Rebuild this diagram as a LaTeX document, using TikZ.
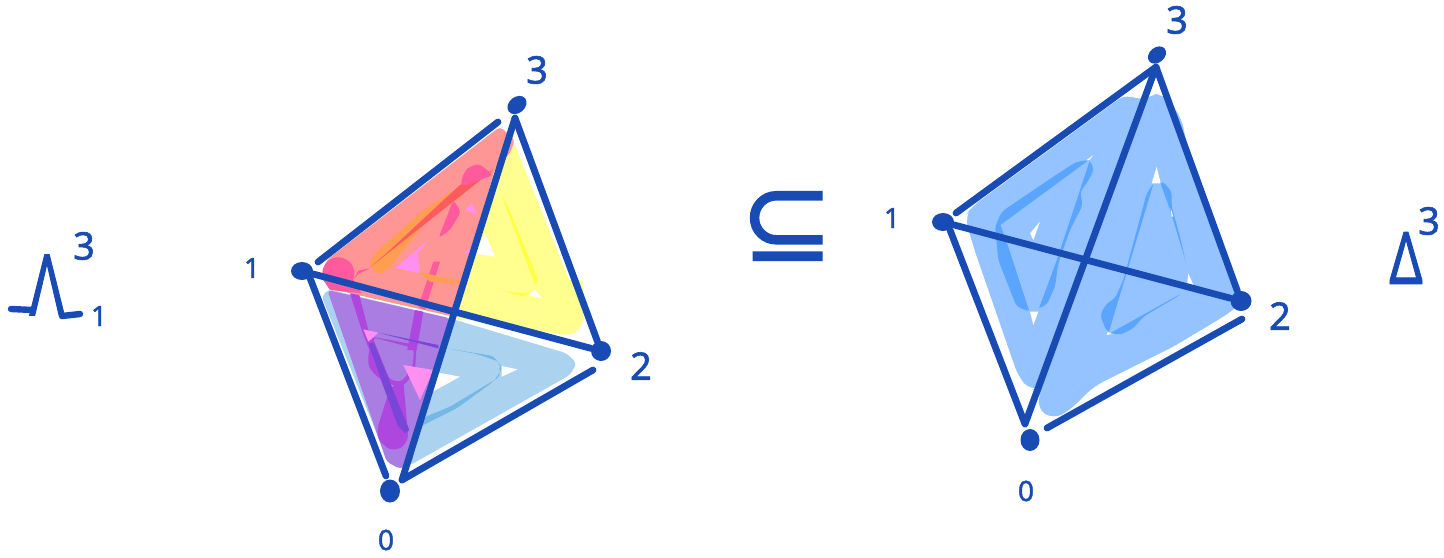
\documentclass[tikz,border=0pt]{standalone}
\usepackage{fontspec}
\usepackage{graphicx}
\usetikzlibrary{shapes.geometric}
\setmainfont{Noto Sans}
\newfontfamily\hand[FakeBold=1.6]{Noto Sans}
\newfontfamily\symfont[FakeBold=1.2]{DejaVu Sans}
\definecolor{ink}{HTML}{184CB4}
\definecolor{cyel}{HTML}{FFFF8F}
\definecolor{cyel2}{HTML}{FFFF45}
\definecolor{cred}{HTML}{FF9696}
\definecolor{cred2}{HTML}{FF5A5E}
\definecolor{cblu}{HTML}{ABD3F0}
\definecolor{cblu2}{HTML}{75B8E6}
\definecolor{cpur}{HTML}{AA7DE2}
\definecolor{cpur2}{HTML}{AE46E0}
\definecolor{cpur3}{HTML}{7A46D8}
\definecolor{cpnk}{HTML}{FF5A9E}
\definecolor{cmag}{HTML}{FF90F0}
\definecolor{corg}{HTML}{FF9E50}
\definecolor{cfil}{HTML}{94C3FF}
\definecolor{cfil2}{HTML}{5AA5FF}
\tikzset{
  edge/.style={draw=ink,line width=3.4pt,line cap=round,line join=round},
  vdot/.style={ellipse,fill=ink,inner sep=0pt,minimum width=#1},
  digit/.style={text=ink,inner sep=0pt,font=\hand\fontsize{19}{19}\selectfont},
  smalldigit/.style={text=ink,inner sep=0pt,font=\hand\fontsize{14}{14}\selectfont},
  bigsym/.style={text=ink,inner sep=0pt},
  zone/.style={shift={#1},x=0.16667pt,y=-0.16667pt},
  soft/.style={rounded corners=2pt}
}
\begin{document}
\begin{tikzpicture}[x=0.5pt,y=-0.5pt]
\useasboundingbox (0,0) rectangle (1444,557);
\fill[white] (0,0) rectangle (1444,557);

% --- left figure: coloured faces (zoom-crop coordinates)
\begin{scope}[zone={(290,280)}]
  \fill[cblu,soft] (95,50) -- (115,28) -- (480,115) -- (830,220) -- (860,250) -- (840,285) -- (370,550) -- (335,565) -- (290,535) -- cycle;
  \fill[white] (635,258) -- (683,268) -- (635,290) -- cycle;
  \fill[cblu2,soft] (470,205) -- (610,228) -- (638,265) -- (610,305) -- (500,385) -- (370,450) -- (360,430) -- (480,380) -- (630,290) -- (628,245) -- (560,222) -- cycle;
  \fill[cyel,soft] (880,120) -- (860,160) -- (820,165) -- (500,105) -- (520,0) -- (880,0) -- cycle;
\end{scope}
\begin{scope}[zone={(290,90)}]
  \fill[cyel] (675,165) -- (885,690) -- (500,690) -- (615,235) -- cycle;
  \fill[cred,soft] (630,110) -- (675,150) -- (660,190) -- (615,235) -- (490,680) -- (115,595) -- (97,550) -- (110,510) -- cycle;
  \fill[cpnk] (145,550) circle [radius=48];
  \fill[cpnk] (100,570) -- (190,570) -- (215,610) -- (120,600) -- cycle;
  \fill[white] (585,430) -- (615,500) -- (555,490) -- cycle;
  \fill[cmag] (520,490) -- (545,470) -- (555,490) -- cycle;
  \fill[white] (735,600) -- (755,625) -- (715,615) -- cycle;
  \fill[cyel2] (635,318) -- (650,340) -- (745,570) -- (735,585) -- cycle;
  \fill[cyel2] (590,590) -- (700,620) -- (720,610) -- (650,605) -- cycle;
  \fill[cmag] (525,360) -- (545,340) -- (563,375) -- cycle;
  \fill[cmag] (415,450) -- (315,535) -- (390,550) -- (383,490) -- cycle;
  \fill[corg,soft] (235,520) -- (260,485) -- (400,360) -- (490,300) -- (510,295) -- (520,320) -- (450,345) -- (300,530) -- (265,555) -- cycle;
  \fill[cred2] (240,532) -- (610,240) -- (510,285) -- (450,340) -- (300,480) -- cycle;
  \fill[cpnk,soft] (513,270) -- (530,235) -- (565,220) -- (610,255) -- (515,290) -- cycle;
  \fill[cpnk,soft] (490,330) -- (513,365) -- (480,420) -- (445,445) -- cycle;
  \fill[cpnk] (430,515) -- (450,515) -- (405,660) -- (385,650) -- cycle;
  \fill[corg] (385,545) -- (420,575) -- (510,582) -- (505,572) -- cycle;
  \fill[corg] (240,525) -- (390,552) -- (320,537) -- cycle;
  \fill[cpnk] (190,570) -- (205,542) -- (240,535) -- (205,552) -- cycle;
\end{scope}
\begin{scope}[zone={(290,280)}]
  \fill[cpur,soft] (112,30) -- (480,115) -- (375,500) -- (365,550) -- (330,567) -- (290,545) -- cycle;
  % ring of the purple overlap
  \fill[cpur2,soft] (235,225) -- (245,170) -- (380,195) -- (375,270) -- (345,315) -- (310,318) -- (260,290) -- (235,260) -- cycle;
  \fill[cpur,soft] (248,172) -- (372,205) -- (368,260) -- (335,305) -- (300,300) -- cycle;
  \fill[cpur2] (375,90) -- (400,95) -- (380,210) -- (352,210) -- cycle;
  \fill[cpur2,soft] (300,325) -- (340,300) -- (355,475) -- (335,505) -- (300,510) -- (265,480) -- (262,445) -- cycle;
  \fill[cpur2] (180,40) -- (208,45) -- (240,170) -- (355,455) -- (330,450) -- (215,150) -- cycle;
  \fill[cpur3] (235,190) -- (252,190) -- (358,450) -- (345,460) -- (322,435) -- cycle;
  \fill[cmag] (220,148) -- (265,158) -- (235,185) -- cycle;
  \fill[cpur3] (265,158) -- (445,195) -- (445,205) -- cycle;
  \fill[cmag] (340,255) -- (430,270) -- (390,360) -- cycle;
  \fill[white] (445,278) -- (510,290) -- (428,335) -- cycle;
\end{scope}

% --- left figure: vertices and edges
\node[vdot=10.5pt,minimum height=8pt,rotate=40] (L3) at (517,105) {};
\node[vdot=11pt,minimum height=9pt] (L1) at (302,271) {};
\node[vdot=10pt,minimum height=10pt] (L2) at (601,351) {};
\node[vdot=10pt,minimum height=11.5pt] (L0) at (390,491) {};
\coordinate (La) at (515,118);
\coordinate (Lb) at (402,480);
\coordinate (Lc) at (318,262);
\coordinate (Ld) at (498,122);
\coordinate (Le) at (386,476);
\coordinate (Lf) at (593,370);
\coordinate (Lg) at (310,278);
\draw[edge] (Lc) -- (Ld);
\draw[edge] (La) -- (L2);
\draw[edge] (La) -- (Lb);
\draw[edge] (L1) -- (L2);
\draw[edge] (Lg) -- (Le);
\draw[edge] (Lb) -- (Lf);

% --- right figure: fill
\begin{scope}[zone={(930,60)}]
  \fill[cfil,rounded corners=5pt] (105,470) -- (125,440) -- (590,100) -- (630,125) -- (660,105) -- (700,100) -- (755,175) -- (775,280) -- (930,735) -- (880,770) -- (730,860) -- (490,980) -- (420,1050) -- (370,1078) -- (320,1045) -- (335,985) -- (300,990) -- (265,950) -- (130,560) -- cycle;
  % inner rings
  \fill[cfil2,soft] (195,500) -- (215,455) -- (370,350) -- (440,305) -- (480,300) -- (492,330) -- (470,370) -- (450,395) -- (458,435) -- (420,510) -- (385,610) -- (375,680) -- (350,735) -- (300,755) -- (260,740) -- (240,690) -- (205,600) -- cycle;
  \fill[cfil] (212,495) -- (480,298) -- (430,450) -- (380,600) -- (310,790) -- (235,560) -- cycle;
  \fill[white] (300,520) -- (330,485) -- (310,540) -- cycle;
  \fill[white] (478,300) -- (490,285) -- (470,300) -- cycle;
  \fill[white] (300,755) -- (325,755) -- (310,795) -- cycle;
  \fill[cfil2,soft] (510,765) -- (530,730) -- (555,715) -- (580,660) -- (650,400) -- (670,370) -- (700,365) -- (725,395) -- (725,440) -- (750,530) -- (775,640) -- (770,670) -- (750,705) -- (640,770) -- (610,805) -- (570,825) -- (530,815) -- cycle;
  \fill[cfil] (535,822) -- (680,340) -- (720,450) -- (790,680) -- cycle;
  \fill[white] (680,320) -- (692,370) -- (665,370) -- cycle;
  \fill[white] (775,640) -- (792,680) -- (770,685) -- cycle;
  \fill[white] (533,815) -- (545,822) -- (530,825) -- cycle;
  \fill[white] (722,445) -- (730,470) -- (725,470) -- cycle;
\end{scope}

% --- right figure: vertices and edges
\node[vdot=10pt,minimum height=7.5pt,rotate=40] (R3) at (1157,55) {};
\node[vdot=11pt,minimum height=9pt] (R1) at (943,222) {};
\node[vdot=10.5pt,minimum height=10pt] (R2) at (1241,301) {};
\node[vdot=9.5pt,minimum height=11pt] (R0) at (1030,440) {};
\coordinate (Ra) at (1156,67);
\coordinate (Rb) at (1025,424);
\coordinate (Rc) at (956,213);
\coordinate (Rd) at (1047,428);
\coordinate (Re) at (1242,319);
\coordinate (Rf) at (950,230);
\draw[edge] (Rc) -- (Ra);
\draw[edge] (Ra) -- (R2);
\draw[edge] (Ra) -- (Rb);
\draw[edge] (R1) -- (R2);
\draw[edge] (Rf) -- (Rb);
\draw[edge] (Rd) -- (Re);

% --- vertex labels
\node[digit] (t3l) at (537,70) {3};
\node[smalldigit] (t1l) at (252,268) {1};
\node[digit] (t2l) at (641,366) {2};
\node[smalldigit] (t0l) at (386,540) {0};
\node[digit] (t3r) at (1177,20) {3};
\node[smalldigit] (t1r) at (892,218) {1};
\node[digit] (t2r) at (1280,316) {2};
\node[smalldigit] (t0r) at (1026,491) {0};

% --- horn and simplex names
\node[bigsym,font=\hand\fontsize{42}{42}\selectfont] (horn) at (47,285) {\scalebox{0.68}[1]{Λ}};
\draw[draw=ink,line width=3.2pt,line cap=round] (11,309) -- (33,310);
\draw[draw=ink,line width=3.2pt,line cap=round] (62,316) -- (80,314);
\node[digit] (h3) at (84,246) {3};
\node[smalldigit] (h1) at (99,316) {1};
\node[bigsym,font=\fontsize{56}{56}\selectfont] (sup) at (787,226) {\symfont ⊆};
\node[bigsym,font=\hand\fontsize{36}{36}\selectfont] (delta) at (1406,258) {\scalebox{0.72}[1]{Δ}};
\node[digit] (d3) at (1429,221) {3};
\end{tikzpicture}
\end{document}
